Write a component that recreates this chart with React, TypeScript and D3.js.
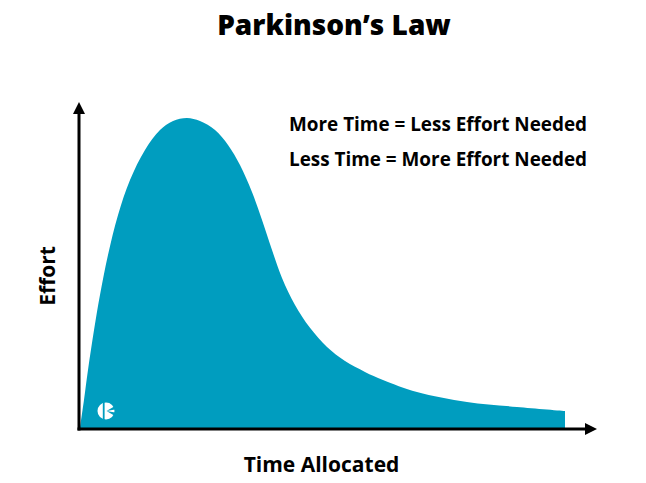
import React from "react";
import * as d3 from "d3";

const timeValues = [0, 0.82, 1.65, 2.89, 4.12, 5.77, 7.84, 10.31, 13.4, 16.49, 19.18, 22.06, 24.74, 27.84, 30.52, 32.99, 35.46, 37.53, 39.59, 41.65, 44.33, 47.42, 50.93, 54.64, 58.76, 62.47, 69.48, 79.79, 90.1, 100];
const effortValues = [0, 9.0, 18.7, 31.6, 42.9, 55.8, 68.7, 80.0, 89.7, 96.1, 99.0, 100, 99.0, 96.1, 91.3, 84.8, 76.1, 67.1, 57.4, 48.4, 39.7, 32.3, 26.1, 21.6, 18.1, 15.5, 11.6, 8.4, 6.8, 5.5];

const titleText = "Parkinson\u2019s Law";
const noteLines = ["More Time = Less Effort Needed", "Less Time = More Effort Needed"];
const xLabel = "Time Allocated";
const yLabel = "Effort";

const W = 646;
const H = 483;
const FONT = "'Open Sans', 'Noto Sans', sans-serif";
const BLUE = "#009dbf";

export default function App() {
  const x = d3.scaleLinear().domain([0, 100]).range([80, 565]);
  const y = d3.scaleLinear().domain([0, 100]).range([428, 118]);
  const data = timeValues.map((t, i) => ({ t, e: effortValues[i] }));
  const area = d3
    .area<{ t: number; e: number }>()
    .x((d) => x(d.t))
    .y0(y(0))
    .y1((d) => y(d.e))
    .curve(d3.curveCatmullRom.alpha(0.5));

  const ox = 79;
  const oy = 429;
  return (
    <svg width={W} height={H} style={{ position: "absolute", left: 0, top: 0, background: "#fff" }}>
      <text x={334} y={35} textAnchor="middle" fontFamily={FONT} fontWeight={800} fontSize={28} fill="#000">
        {titleText}
      </text>
      <path d={area(data) || ""} fill={BLUE} />
      {/* logo */}
      <g transform={`translate(106,411)`}>
        <circle r={8.5} fill="#fff" />
        <rect x={-3.2} y={-9} width={1.8} height={18} fill={BLUE} />
        <path d="M0.5,0 L9,-5 L9,-1.5 Z" fill={BLUE} />
        <path d="M0.5,0 L9,5 L9,1.5 Z" fill={BLUE} />
      </g>
      {/* axes */}
      <line x1={ox} y1={oy + 1.5} x2={ox} y2={112} stroke="#000" strokeWidth={3} />
      <path d={`M${ox - 6},${114} L${ox},${102} L${ox + 6},${114} Z`} fill="#000" />
      <line x1={ox - 1.5} y1={oy} x2={588} y2={oy} stroke="#000" strokeWidth={3} />
      <path d={`M${585},${oy - 6} L${597},${oy} L${585},${oy + 6} Z`} fill="#000" />
      {noteLines.map((l, i) => (
        <text key={i} x={289} y={131 + i * 35} fontFamily={FONT} fontWeight={700} fontSize={18.9} fill="#000">
          {l}
        </text>
      ))}
      <text x={321.5} y={472} textAnchor="middle" fontFamily={FONT} fontWeight={700} fontSize={21} fill="#000">
        {xLabel}
      </text>
      <text transform="translate(55,276) rotate(-90)" textAnchor="middle" fontFamily={FONT} fontWeight={700} fontSize={21} fill="#000">
        {yLabel}
      </text>
    </svg>
  );
}
